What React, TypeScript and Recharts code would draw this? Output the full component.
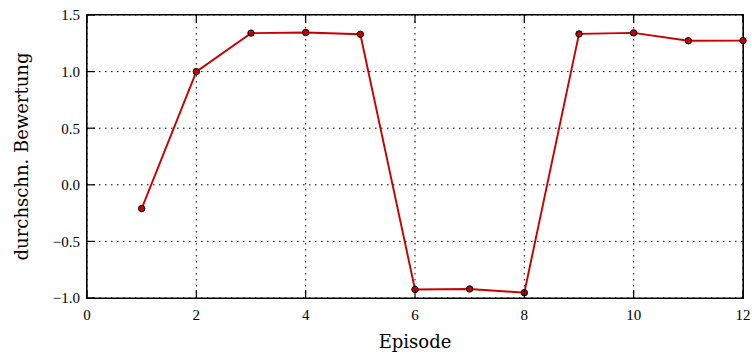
import React from "react";
import {
  LineChart,
  Line,
  XAxis,
  YAxis,
  CartesianGrid,
  ReferenceArea,
} from "recharts";

// average rating per episode
const episodes = [1, 2, 3, 4, 5, 6, 7, 8, 9, 10, 11, 12];
const ratings = [-0.21, 1.0, 1.34, 1.345, 1.33, -0.925, -0.92, -0.953, 1.333, 1.342, 1.273, 1.274];

const xTicks = [0, 2, 4, 6, 8, 10, 12];
const yTicks = [-1.0, -0.5, 0.0, 0.5, 1.0, 1.5];

const data = episodes.map((ep, i) => ({ episode: ep, rating: ratings[i] }));

const FONT = "'Liberation Serif', 'DejaVu Serif', serif";
const LABEL_FONT = "'DejaVu Serif', serif";
const RED = "#c80000";
const TICK_LEN = 8;

const W = 752;
const H = 356;
const M = { top: 14, right: 8, bottom: 28, left: 27 };
const Y_AXIS_W = 60;
const X_AXIS_H = 30;

const fmtY = (v: number) => (v < 0 ? `\u2212${Math.abs(v).toFixed(1)}` : v.toFixed(1));

// inward tick + label below the bottom axis
const BottomTick = (props: any) => {
  const x = Number(props.x);
  const y = Number(props.y);
  return (
    <g>
      <path d={`M${x},${y - 11}V${y - 11 - TICK_LEN}`} stroke="#000" strokeWidth={1.2} fill="none" />
      <text x={x} y={y} dy="0.71em" textAnchor="middle" fontSize={15} fontFamily={FONT} fill="#000">
        {props.payload.value}
      </text>
    </g>
  );
};

const TopTick = (props: any) => {
  const x = Number(props.x);
  const y = Number(props.y);
  return <path d={`M${x},${y}V${y + TICK_LEN}`} stroke="#000" strokeWidth={1.2} fill="none" />;
};

const LeftTick = (props: any) => {
  const x = Number(props.x);
  const y = Number(props.y);
  return (
    <g>
      <path d={`M${x + 7},${y}H${x + 7 + TICK_LEN}`} stroke="#000" strokeWidth={1.2} fill="none" />
      <text x={x} y={y} dy="0.355em" textAnchor="end" fontSize={15} fontFamily={FONT} fill="#000">
        {fmtY(props.payload.value)}
      </text>
    </g>
  );
};

const RightTick = (props: any) => {
  const x = Number(props.x);
  const y = Number(props.y);
  return <path d={`M${x - TICK_LEN},${y}H${x}`} stroke="#000" strokeWidth={1.2} fill="none" />;
};

export default function App() {
  // plot box, sits under the transparent svg
  const frame = {
    left: M.left + Y_AXIS_W,
    top: M.top + 1,
    width: W - M.left - Y_AXIS_W - M.right - 1,
    height: H - M.top - 1 - M.bottom - X_AXIS_H,
  };
  return (
    <div style={{ position: "absolute", left: 0, top: 0, width: W, height: H, background: "#fff" }}>
      <div
        style={{
          position: "absolute",
          left: frame.left - 0.6,
          top: frame.top - 0.6,
          width: frame.width,
          height: frame.height,
          border: "1.2px solid #000",
        }}
      />
      <div style={{ position: "absolute", left: 0, top: 0 }}>
        <LineChart width={W} height={H} data={data} margin={M}>
          <CartesianGrid
            xAxisId="bottom"
            yAxisId="left"
            fill="none"
            stroke="#000"
            strokeWidth={1}
            strokeDasharray="1.5 4.5"
          />
          <XAxis
            xAxisId="bottom"
            dataKey="episode"
            type="number"
            domain={[0, 12]}
            ticks={xTicks}
            height={X_AXIS_H}
            axisLine={false}
            tickLine={false}
            tickSize={0}
            tickMargin={11}
            tick={<BottomTick />}
            label={{
              content: ({ viewBox }: any) => (
                <text
                  x={viewBox.x + viewBox.width / 2}
                  y={viewBox.y + viewBox.height + 20}
                  textAnchor="middle"
                  fontSize={18}
                  fontFamily={LABEL_FONT}
                  fill="#000"
                >
                  Episode
                </text>
              ),
            }}
          />
          <XAxis
            xAxisId="top"
            orientation="top"
            dataKey="episode"
            type="number"
            domain={[0, 12]}
            ticks={xTicks}
            height={1}
            axisLine={false}
            tickLine={false}
            tickSize={0}
            tickMargin={0}
            tick={<TopTick />}
          />
          <YAxis
            yAxisId="left"
            type="number"
            domain={[-1, 1.5]}
            ticks={yTicks}
            width={Y_AXIS_W}
            axisLine={false}
            tickLine={false}
            tickSize={0}
            tickMargin={7}
            tick={<LeftTick />}
            label={{
              content: ({ viewBox }: any) => {
                const cx = viewBox.x - 6;
                const cy = viewBox.y + viewBox.height / 2;
                return (
                  <text
                    x={cx}
                    y={cy}
                    transform={`rotate(-90 ${cx} ${cy})`}
                    textAnchor="middle"
                    dominantBaseline="central"
                    fontSize={18}
                    fontFamily={LABEL_FONT}
                    fill="#000"
                  >
                    durchschn. Bewertung
                  </text>
                );
              },
            }}
          />
          <YAxis
            yAxisId="right"
            orientation="right"
            type="number"
            domain={[-1, 1.5]}
            ticks={yTicks}
            width={1}
            axisLine={false}
            tickLine={false}
            tickSize={0}
            tickMargin={0}
            tick={<RightTick />}
          />
          <ReferenceArea
            xAxisId="bottom"
            yAxisId="left"
            x1={0}
            x2={12}
            y1={-1}
            y2={1.5}
            fill="none"
            fillOpacity={0}
            stroke="#000"
            strokeWidth={1.2}
            strokeOpacity={1}
          />
          <Line
            xAxisId="bottom"
            yAxisId="left"
            type="linear"
            dataKey="rating"
            stroke={RED}
            strokeWidth={1.9}
            dot={{ r: 3.2, fill: RED, stroke: "#000", strokeWidth: 1, fillOpacity: 1 }}
            activeDot={false}
            isAnimationActive={false}
          />
        </LineChart>
      </div>
    </div>
  );
}
